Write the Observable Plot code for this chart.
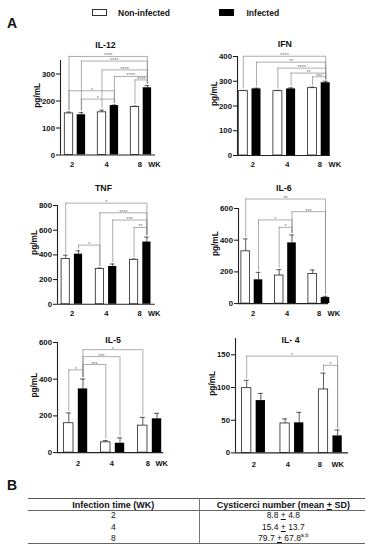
<!DOCTYPE html>
<html><head><meta charset="utf-8">
<script src="https://cdn.jsdelivr.net/npm/d3@7"></script>
<script src="https://cdn.jsdelivr.net/npm/@observablehq/plot@0.6"></script>
<style>
body{margin:0;background:#fff;font-family:"Liberation Sans",Arial,sans-serif;color:#111;}
#page{position:relative;width:378px;height:550px;overflow:hidden;background:#fff;}
.abs{position:absolute;white-space:nowrap;}
.hl{position:absolute;height:1px;background:#666;}
.cell{position:absolute;text-align:center;line-height:10px;}
</style></head><body><div id="page">
<div class="abs" style="left:7px;top:16px;font-size:14px;font-weight:bold;line-height:14px;">A</div>
<div class="abs" style="left:92px;top:9px;width:13px;height:5px;border:1px solid #333;background:#fff;"></div>
<div class="abs" style="left:118px;top:7.5px;font-size:8.5px;font-weight:bold;line-height:10px;">Non-infected</div>
<div class="abs" style="left:219px;top:9px;width:15px;height:7px;background:#000;"></div>
<div class="abs" style="left:246.5px;top:7.5px;font-size:8.5px;font-weight:bold;line-height:10px;">Infected</div>
<div class="abs" style="left:7px;top:478px;font-size:14px;font-weight:bold;line-height:14px;">B</div>
<div class="hl" style="left:28px;top:498px;width:337px;background:#555;"></div>
<div class="hl" style="left:28px;top:510px;width:337px;"></div>
<div class="hl" style="left:28px;top:543px;width:337px;"></div>
<div class="abs" style="left:199px;top:498px;width:1px;height:45px;background:#777;"></div>
<div id="tbl"></div>
</div>
<script>
// ---------- data ----------
const weeks = ["2", "4", "8"];
const groups = ["Non-infected", "Infected"];

const il12Non = [154, 158, 178], il12NonSD = [5, 8, 3];
const il12Inf = [149, 183, 249], il12InfSD = [8, 2, 8];
const il12Ticks = [0, 100, 200, 300];
const il12Sig = [[0,5,365,"****"],[1,5,348,"****"],[2,5,315,"****"],[3,5,291,"****"],[4,5,278,"****"],[0,3,238,"*"],[1,3,207,"*"]];

const ifnNon = [260, 260, 272], ifnNonSD = [3, 3, 4];
const ifnInf = [269, 269, 294], ifnInfSD = [3, 4, 6];
const ifnTicks = [0, 100, 200, 300, 400];
const ifnSig = [[0,5,401,"****"],[1,5,377,"**"],[2,5,353,"****"],[3,5,333,"**"],[4,5,318,"***"]];

const tnfNon = [366, 285, 360], tnfNonSD = [32, 8, 6];
const tnfInf = [406, 306, 504], tnfInfSD = [27, 20, 40];
const tnfTicks = [0, 200, 400, 600, 800];
const tnfSig = [[0,5,819,"*"],[2,5,741,"****"],[3,5,682,"***"],[4,5,622,"**"],[1,2,479,"*"]];

const il6Non = [330, 177, 187], il6NonSD = [78, 37, 25];
const il6Inf = [150, 383, 38], il6InfSD = [47, 50, 8];
const il6Ticks = [0, 200, 400, 600];
const il6Sig = [[0,5,660,"**"],[3,5,580,"***"],[1,3,528,"*"],[2,3,481,"*"]];

const il5Non = [160, 56, 147], il5NonSD = [56, 9, 45];
const il5Inf = [347, 51, 184], il5InfSD = [54, 29, 30];
const il5Ticks = [0, 200, 400, 600];
const il5Sig = [[1,4,561,"*"],[1,3,523,"***"],[1,2,480,"***"],[0,1,451,"*"]];

const il4Non = [99, 45, 97], il4NonSD = [12, 7, 25];
const il4Inf = [80, 46, 26], il4InfSD = [11, 16, 9];
const il4Ticks = [0, 50, 100, 150];
const il4Sig = [[0,5,148,"*"],[4,5,134,"*"]];

const tableHeader = ["Infection time (WK)", "Cysticerci number (mean \u00b1 SD)"];
const tableWeeks = ["2", "4", "8"];
const tableMean = ["8.8", "15.4", "79.7"];
const tableSD = ["4.8", "13.7", "67.8"];
const tableSup = ["", "", "a,b"];

// ---------- layout ----------
const LAYOUT = {
  il12: {axisX:60, axisEnd:155, g0:74.7, step:33, off:6.2, bw:8.4, baseY:154.3, topY:59.8, ymax:350, titleX:105, titleY:40.7, lab:[-3,-1.7,-1.4], wk:13.2, labDy:10},
  ifn:  {axisX:237, axisEnd:330, g0:249.4, step:34.6, off:6.6, bw:9, baseY:155, topY:56, ymax:400, titleX:284.3, titleY:40.7, lab:[3,2.8,0.7], wk:15.7, labDy:9.5},
  tnf:  {axisX:57.3, axisEnd:155, g0:71.9, step:34.2, off:6.4, bw:8.2, baseY:303.5, topY:204.7, ymax:800, titleX:103.3, titleY:184.3, lab:[0,0,-1], wk:13.7, labDy:9.3},
  il6:  {axisX:238, axisEnd:328, g0:251.6, step:33.5, off:6.4, bw:8.6, baseY:303, topY:207.9, ymax:600, titleX:283.3, titleY:184.3, lab:[1,1.6,0], wk:14.7, labDy:9.7},
  il5:  {axisX:56.7, axisEnd:163, g0:75.1, step:37, off:7.1, bw:9.4, baseY:452, topY:341.9, ymax:600, titleX:112.3, titleY:335.7, lab:[2.2,-1,-2], wk:11.8, labDy:11.3},
  il4:  {axisX:235, axisEnd:348, g0:253.25, step:38.4, off:7.05, bw:9.3, baseY:452, topY:337.6, ymax:175, titleX:290, titleY:335.7, lab:[0,-4.4,-10.8], wk:7.2, labDy:11.3}
};

const FONT = '"Liberation Sans", Arial, sans-serif';
const page = document.getElementById("page");

function panel(title, non, nonSD, inf, infSD, sig, ticks, L) {
  const mL = 44, mR = 26, mT = 40, mB = 22;
  const plotW = L.axisEnd - L.axisX, plotH = L.baseY - L.topY;
  const W = mL + plotW + mR, H = mT + plotH + mB;
  const x0 = (L.axisX - L.g0) / L.step, x1 = (L.axisEnd - L.g0) / L.step;
  const off = L.off / L.step, hw = L.bw / 2 / L.step, cap = L.bw * 0.27 / L.step;
  const gap = 1.5 * L.ymax / plotH;
  const bars = [];
  weeks.forEach((w, i) => {
    bars.push({g: i, s: 0, v: non[i], e: nonSD[i]});
    bars.push({g: i, s: 1, v: inf[i], e: infSD[i]});
  });
  bars.forEach(b => { b.c = b.g + (b.s ? off : -off); b.top = b.v + b.e; });
  const br = sig.map(([a, b, y, t]) => ({xa: bars[a].c, xb: bars[b].c, ya: bars[a].top + gap, yb: bars[b].top + gap, y, t}));
  const mid = (L.axisX + L.axisEnd) / 2;
  const grey = "#8a8a8a";
  const svg = Plot.plot({
    width: W, height: H,
    marginLeft: mL, marginRight: mR, marginTop: mT, marginBottom: mB,
    x: {domain: [x0, x1], axis: null},
    y: {domain: [0, L.ymax], ticks: ticks, tickSize: 4, tickPadding: 1.5, label: null, tickFormat: d => String(d)},
    style: {fontFamily: FONT, fontSize: "7.8px", fontWeight: "bold", color: "#111", background: "transparent", overflow: "visible"},
    marks: [
      // brackets
      Plot.ruleX(br, {x: "xa", y1: "y", y2: "ya", stroke: grey, strokeWidth: 0.7}),
      Plot.ruleX(br, {x: "xb", y1: "y", y2: "yb", stroke: grey, strokeWidth: 0.7}),
      Plot.ruleY(br, {y: "y", x1: "xa", x2: "xb", stroke: grey, strokeWidth: 0.7}),
      Plot.text(br, {x: d => (d.xa + d.xb) / 2, y: "y", text: "t", lineAnchor: "bottom", fontSize: 5.5, fontWeight: "normal", fill: "#777", dy: 1}),
      // error bars
      Plot.ruleX(bars, {x: "c", y1: "v", y2: "top", stroke: "#333", strokeWidth: 0.8}),
      Plot.ruleY(bars, {y: "top", x1: d => d.c - cap, x2: d => d.c + cap, stroke: "#333", strokeWidth: 0.8}),
      // bars
      Plot.rectY(bars.filter(d => d.s === 0), {x1: d => d.c - hw, x2: d => d.c + hw, y1: () => 0, y2: "v", fill: "#fff", stroke: "#222", strokeWidth: 0.8}),
      Plot.rectY(bars.filter(d => d.s === 1), {x1: d => d.c - hw, x2: d => d.c + hw, y1: () => 0, y2: "v", fill: "#000"}),
      // axes lines
      Plot.ruleX([x0], {stroke: "#222", strokeWidth: 1.1}),
      Plot.ruleY([0], {stroke: "#222", strokeWidth: 1.1}),
      // x labels
      ...weeks.map((w, i) => Plot.text([w], {x: () => i, y: () => 0, text: d => d, dy: L.labDy, dx: L.lab[i], fontSize: 7.5})),
      Plot.text(["WK"], {x: () => weeks.length - 1, y: () => 0, text: d => d, dy: L.labDy, dx: L.wk, fontSize: 7.5}),
      // title & y label
      Plot.text([title], {frameAnchor: "top", text: d => d, dy: L.titleY - L.topY, dx: L.titleX - mid, fontSize: 8.8}),
      Plot.text(["pg/mL"], {frameAnchor: "left", text: d => d, rotate: -90, dx: -23.5, fontSize: 8.3})
    ]
  });
  svg.style.position = "absolute";
  svg.style.left = (L.axisX - mL) + "px";
  svg.style.top = (L.topY - mT) + "px";
  svg.style.maxWidth = "none";
  page.appendChild(svg);
}

panel("IL-12", il12Non, il12NonSD, il12Inf, il12InfSD, il12Sig, il12Ticks, LAYOUT.il12);
panel("IFN", ifnNon, ifnNonSD, ifnInf, ifnInfSD, ifnSig, ifnTicks, LAYOUT.ifn);
panel("TNF", tnfNon, tnfNonSD, tnfInf, tnfInfSD, tnfSig, tnfTicks, LAYOUT.tnf);
panel("IL-6", il6Non, il6NonSD, il6Inf, il6InfSD, il6Sig, il6Ticks, LAYOUT.il6);
panel("IL-5", il5Non, il5NonSD, il5Inf, il5InfSD, il5Sig, il5Ticks, LAYOUT.il5);
panel("IL- 4", il4Non, il4NonSD, il4Inf, il4InfSD, il4Sig, il4Ticks, LAYOUT.il4);

// table B
const tbl = document.getElementById("tbl");
function cell(html, cx, cy, size, bold) {
  const d = document.createElement("div");
  d.className = "cell";
  d.style.left = (cx - 100) + "px";
  d.style.width = "200px";
  d.style.top = (cy - 5) + "px";
  d.style.fontSize = size + "px";
  d.style.fontWeight = bold ? "bold" : "normal";
  d.innerHTML = html;
  tbl.appendChild(d);
}
cell(tableHeader[0], 113.3, 504.5, 9, true);
cell(tableHeader[1].replace("\u00b1", "<u>+</u>"), 283.3, 504.5, 9, true);
const rowY = [515, 526.5, 537.5];
tableWeeks.forEach((w, i) => {
  cell(w, 113.3, rowY[i], 8.5, false);
  const sup = tableSup[i] ? `<sup style="font-size:5.5px;vertical-align:4px;line-height:0">${tableSup[i]}</sup>` : "";
  cell(`${tableMean[i]} <u>+</u> ${tableSD[i]}${sup}`, 283.3, rowY[i], 8.5, false);
});
</script>
</body></html>
